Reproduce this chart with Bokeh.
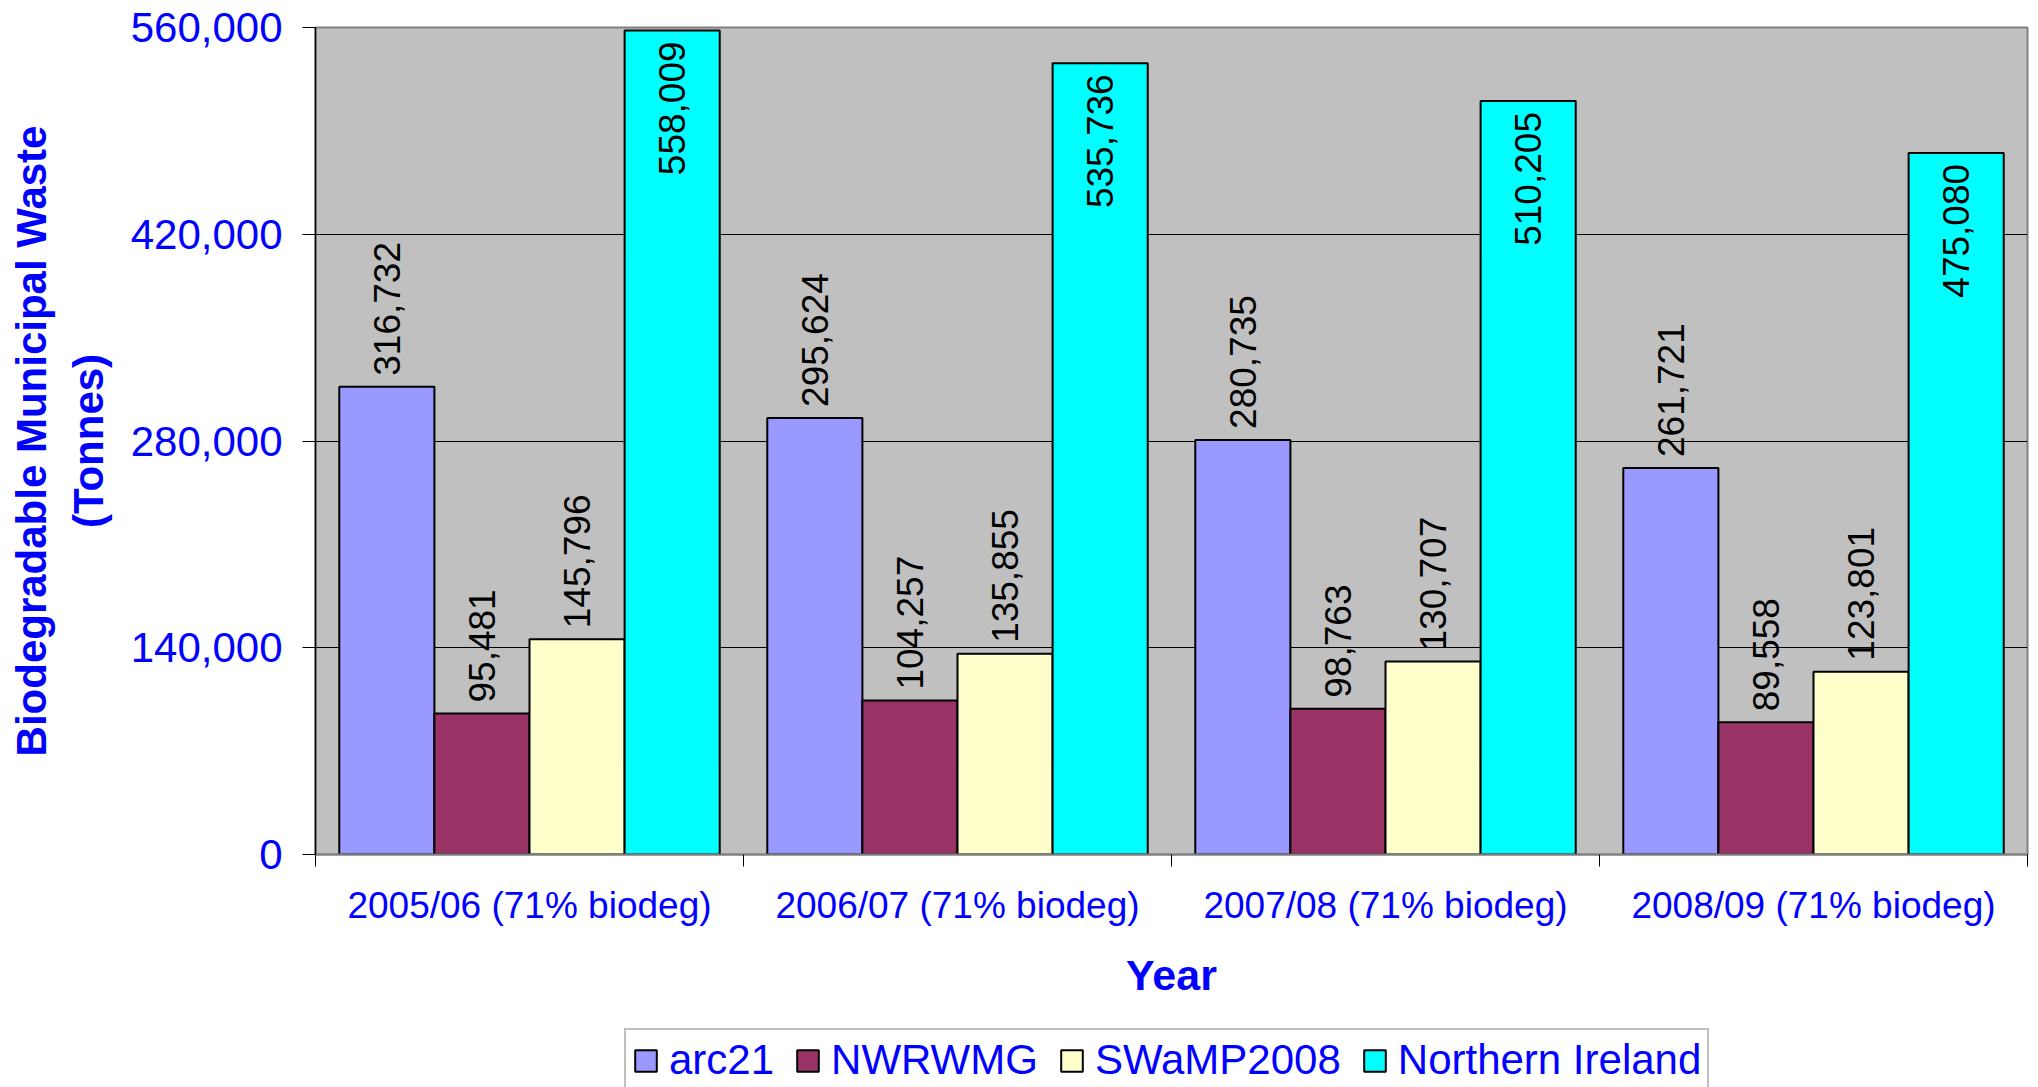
import numpy as np
from bokeh.plotting import figure
from bokeh.layouts import column
from bokeh.models import (ColumnDataSource, Range1d, FixedTicker, NumeralTickFormatter,
                          Legend, LegendItem)
from bokeh.core.properties import value
from bokeh.embed import file_html
from bokeh.resources import INLINE

# ---- data ----
years = ["2005/06 (71% biodeg)", "2006/07 (71% biodeg)",
         "2007/08 (71% biodeg)", "2008/09 (71% biodeg)"]
series = ["arc21", "NWRWMG", "SWaMP2008", "Northern Ireland"]
arc21 = [316732, 295624, 280735, 261721]
nwrwmg = [95481, 104257, 98763, 89558]
swamp2008 = [145796, 135855, 130707, 123801]
northern_ireland = [558009, 535736, 510205, 475080]
y_ticks = [0, 140000, 280000, 420000, 560000]
colors = ["#9999FF", "#993366", "#FFFFCC", "#00FFFF"]

values = [arc21, nwrwmg, swamp2008, northern_ireland]

FONT = "Liberation Sans"
BLUE = "#0000FF"

p = figure(width=2038, height=1010, output_backend="svg", toolbar_location=None,
           x_range=Range1d(0, len(years)), y_range=Range1d(0, y_ticks[-1]),
           min_border_left=315, min_border_right=11, min_border_top=27,
           min_border_bottom=156)
p.background_fill_color = "#C0C0C0"
p.border_fill_color = "white"
p.outline_line_color = "#808080"
p.outline_line_width = 2

n = len(series)
gap = 0.5
bw = 1.0 / (n + gap)
start = gap * bw / 2

for k, (name, vals, col) in enumerate(zip(series, values, colors)):
    xs = [i + start + (k + 0.5) * bw for i in range(len(years))]
    src = ColumnDataSource(dict(x=xs, top=vals, label=[f"{v:,}" for v in vals]))
    p.vbar(x="x", top="top", bottom=0, width=bw, source=src,
           fill_color=col, line_color="black", line_width=2)
    inside = (name == "Northern Ireland")
    p.text(x="x", y="top", text="label", source=src, angle=np.pi / 2,
           text_align="right" if inside else "left", text_baseline="middle",
           y_offset=11 if inside else -11,
           text_font=value(FONT), text_font_size="37px", text_color="black")

# x axis
centers = [i + 0.5 for i in range(len(years))]
p.xaxis.ticker = FixedTicker(ticks=centers, minor_ticks=list(range(len(years) + 1)))
p.xaxis.major_label_overrides = {c: y for c, y in zip(centers, years)}
p.xaxis.major_tick_out = 0
p.xaxis.major_tick_in = 0
p.xaxis.minor_tick_out = 12
p.xaxis.minor_tick_in = 0
p.xaxis.minor_tick_line_color = "black"
p.xaxis.axis_line_color = "#808080"
p.xaxis.axis_line_width = 2
p.xaxis.major_label_text_font = FONT
p.xaxis.major_label_text_font_size = "37px"
p.xaxis.major_label_text_color = BLUE
p.xaxis.major_label_standoff = 18
p.xaxis.axis_label = "Year"
p.xaxis.axis_label_text_font = FONT
p.xaxis.axis_label_text_font_style = "bold"
p.xaxis.axis_label_text_font_size = "43px"
p.xaxis.axis_label_text_color = BLUE
p.xaxis.axis_label_standoff = 22

# y axis
p.yaxis.ticker = FixedTicker(ticks=y_ticks, minor_ticks=[])
p.yaxis.formatter = NumeralTickFormatter(format="0,0")
p.yaxis.major_tick_out = 13
p.yaxis.major_tick_in = 0
p.yaxis.major_tick_line_color = "black"
p.yaxis.axis_line_color = "black"
p.yaxis.axis_line_width = 1.5
p.yaxis.major_label_text_font = FONT
p.yaxis.major_label_text_font_size = "42px"
p.yaxis.major_label_text_color = BLUE
p.yaxis.major_label_standoff = 20
p.yaxis.axis_label = "Biodegradable Municipal Waste\n(Tonnes)"
p.yaxis.axis_label_text_font = FONT
p.yaxis.axis_label_text_font_style = "bold"
p.yaxis.axis_label_text_font_size = "42px"
p.yaxis.axis_label_text_color = BLUE
p.yaxis.axis_label_standoff = 16

p.xgrid.visible = False
p.ygrid.grid_line_color = "black"
p.ygrid.grid_line_width = 1

# ---- legend strip below the chart ----
pl = figure(width=2038, height=77, output_backend="svg", toolbar_location=None,
            x_range=Range1d(0, 1), y_range=Range1d(0, 1),
            x_axis_location=None, y_axis_location=None, min_border=0)
pl.grid.visible = False
pl.outline_line_color = None
pl.background_fill_color = "white"
pl.border_fill_color = "white"

items = []
for name, col in zip(series, colors):
    # legend-only renderer: no drawable geometry (NaN height), only its style is used
    r = pl.vbar(x=[0.5], top=[np.nan], width=0.1, fill_color=col,
                line_color="black", line_width=2)
    items.append(LegendItem(label=name, renderers=[r]))

legend = Legend(items=items, orientation="horizontal", location=(309, -5),
                label_text_font=FONT, label_text_font_size="42px", label_text_color=BLUE,
                glyph_width=27, glyph_height=27, label_standoff=10, spacing=20,
                padding=6, margin=0,
                border_line_color="#808080", border_line_width=2,
                background_fill_color="white", background_fill_alpha=1)
pl.add_layout(legend)

layout = column(p, pl, spacing=0)
open("out.html", "w").write(file_html(layout, INLINE))
